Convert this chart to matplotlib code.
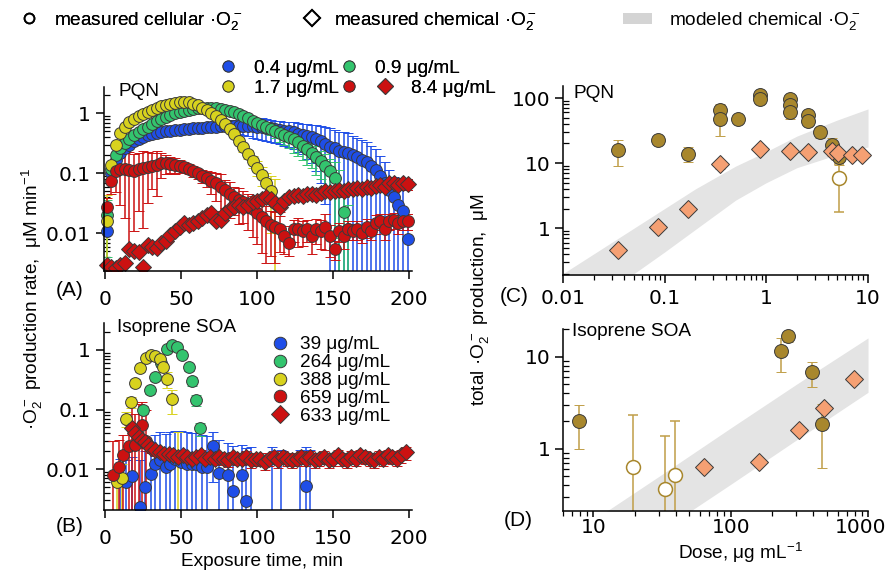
import numpy as np
import matplotlib
matplotlib.use("Agg")
import matplotlib.pyplot as plt
from matplotlib.lines import Line2D
from matplotlib.patches import Patch
from matplotlib.ticker import NullFormatter
from matplotlib.transforms import Bbox, TransformedBbox, ScaledTranslation

plt.rcParams.update({
    "font.family": ["Liberation Sans", "DejaVu Sans"],
    "font.size": 13.7,
    "mathtext.fontset": "custom",
    "mathtext.rm": "Liberation Sans",
    "mathtext.default": "regular",
    "axes.linewidth": 1.1,
})

# ---------------- panel A : PQN, rate vs time ----------------
t_grid = [1, 4, 7, 10, 13, 16, 19, 22, 25, 28, 31, 34, 37, 40, 43, 46, 49, 52, 55, 58,
          61, 64, 67, 70, 73, 76, 79, 82, 85, 88, 91, 94, 97, 100, 103, 106, 109, 112, 115, 118,
          121, 124, 127, 130, 133, 136, 139, 142, 145, 148, 151, 154, 157, 160, 163, 166, 169, 172, 175, 178,
          181, 184, 187, 190, 193, 196, 199]

a_blue = [0.011, 0.1, 0.17, 0.22, 0.26, 0.3, 0.34, 0.37, 0.4, 0.43,
          0.45, 0.47, 0.49, 0.5, 0.51, 0.52, 0.53, 0.54, 0.55, 0.56,
          0.57, 0.58, 0.59, 0.6, 0.6, 0.61, 0.61, 0.62, 0.62, 0.62,
          0.62, 0.62, 0.61, 0.6, 0.59, 0.58, 0.56, 0.54, 0.53, 0.51,
          0.5, 0.48, 0.46, 0.44, 0.42, 0.4, 0.37, 0.34, 0.31, 0.28,
          0.26, 0.24, 0.23, 0.22, 0.2, 0.185, 0.17, 0.155, 0.135, 0.115,
          0.09, 0.07, 0.052, 0.04, 0.03, 0.024, 0.008]
a_blue_rel = [0.7, 0.1, 0.08, 0.06, 0.06, 0.05, 0.05, 0.05, 0.05, 0.05,
              0.05, 0.05, 0.05, 0.05, 0.05, 0.06, 0.06, 0.07, 0.07, 0.08,
              0.09, 0.1, 0.11, 0.12, 0.14, 0.16, 0.18, 0.2, 0.23, 0.26,
              0.3, 0.33, 0.36, 0.38, 0.4, 0.4, 0.4, 0.4, 0.42, 0.43,
              0.45, 0.47, 0.5, 0.53, 0.58, 0.63, 0.7, 0.8, 0.9, 1.0,
              1.05, 1.05, 1.1, 1.1, 1.1, 1.1, 1.15, 1.15, 1.15, 1.2,
              1.2, 1.2, 1.2, 1.2, 1.2, 1.2, 1.2]

a_green = [0.02, 0.12, 0.2, 0.26, 0.32, 0.38, 0.43, 0.48, 0.54, 0.6,
           0.67, 0.74, 0.81, 0.88, 0.95, 1.0, 1.05, 1.1, 1.14, 1.18,
           1.21, 1.23, 1.24, 1.24, 1.22, 1.19, 1.15, 1.1, 1.04, 0.97,
           0.9, 0.83, 0.76, 0.7, 0.64, 0.59, 0.55, 0.51, 0.47, 0.44,
           0.41, 0.37, 0.33, 0.29, 0.25, 0.22, 0.19, 0.16, 0.135, 0.11,
           0.083, 0.05, 0.023, 0.012]
a_green_rel = [0.8, 0.1, 0.08, 0.06, 0.05, 0.05, 0.05, 0.05, 0.05, 0.05,
               0.05, 0.05, 0.05, 0.05, 0.05, 0.05, 0.05, 0.05, 0.05, 0.05,
               0.05, 0.05, 0.05, 0.05, 0.05, 0.05, 0.05, 0.05, 0.05, 0.06,
               0.07, 0.08, 0.1, 0.12, 0.15, 0.18, 0.2, 0.25, 0.3, 0.33,
               0.36, 0.4, 0.4, 0.42, 0.45, 0.45, 0.5, 0.5, 0.55, 0.6,
               0.9, 1.3, 1.4, 1.5]

a_yellow = [0.016, 0.14, 0.3, 0.47, 0.6, 0.72, 0.82, 0.91, 0.99, 1.07,
            1.16, 1.25, 1.33, 1.4, 1.46, 1.51, 1.55, 1.56, 1.52, 1.45,
            1.36, 1.25, 1.13, 1.01, 0.9, 0.78, 0.66, 0.55, 0.45, 0.35,
            0.27, 0.21, 0.16, 0.125, 0.095, 0.07, 0.05, 0.032]
a_yellow_rel = [1.7, 0.1, 0.08, 0.07, 0.06, 0.06, 0.05, 0.05, 0.05, 0.05,
                0.05, 0.05, 0.05, 0.05, 0.05, 0.05, 0.05, 0.05, 0.05, 0.05,
                0.05, 0.05, 0.05, 0.06, 0.06, 0.07, 0.08, 0.09, 0.1, 0.12,
                0.15, 0.18, 0.22, 0.28, 0.35, 0.45, 0.8, 1.5]

a_red = [0.028, 0.075, 0.11, 0.12, 0.12, 0.115, 0.11, 0.12, 0.125, 0.13,
         0.135, 0.14, 0.15, 0.15, 0.145, 0.14, 0.135, 0.13, 0.12, 0.11,
         0.1, 0.092, 0.085, 0.075, 0.068, 0.06, 0.052, 0.045, 0.04, 0.036,
         0.033, 0.028, 0.025, 0.022, 0.019, 0.016, 0.014, 0.013, 0.012, 0.009,
         0.007, 0.012, 0.012, 0.011, 0.012, 0.009, 0.012, 0.011, 0.013, 0.009,
         0.0055, 0.011, 0.009, 0.012, 0.011, 0.012, 0.01, 0.013, 0.011, 0.015,
         0.016, 0.012, 0.016, 0.017, 0.015, 0.016, 0.016]
a_red_rel = [0.4, 0.4, 0.55, 0.75, 0.85, 0.95, 0.9, 0.8, 0.9, 0.75,
             0.6, 0.7, 0.45, 0.35, 0.3, 0.3, 0.25, 0.2, 0.2, 0.2,
             0.2, 0.25, 0.3, 0.4, 0.5, 0.6, 0.5, 0.6, 0.5, 0.6,
             0.55, 0.6, 0.65, 0.7, 0.75, 0.8, 0.7, 0.75, 0.6, 0.5,
             0.4, 0.4, 0.5, 0.45, 0.4, 0.5, 0.45, 0.5, 0.6, 0.55,
             0.35, 0.35, 0.4, 0.35, 0.3, 0.35, 0.3, 0.35, 0.3, 0.35,
             0.3, 0.35, 0.3, 0.3, 0.35, 0.3, 0.3]

a_red_chem = [0.003, 0.0028, 0.0026, 0.003, 0.0032, 0.0055, 0.005, 0.0048, 0.0027, 0.0065,
              0.006, 0.0058, 0.0068, 0.0075, 0.0095, 0.011, 0.013, 0.015, 0.014, 0.015,
              0.016, 0.018, 0.02, 0.022, 0.016, 0.017, 0.022, 0.025, 0.028, 0.03,
              0.027, 0.03, 0.033, 0.035, 0.038, 0.04, 0.038, 0.032, 0.027, 0.035,
              0.04, 0.042, 0.044, 0.042, 0.045, 0.046, 0.044, 0.047, 0.05, 0.048,
              0.05, 0.052, 0.05, 0.055, 0.054, 0.057, 0.055, 0.06, 0.058, 0.062,
              0.065, 0.06, 0.068, 0.07, 0.065, 0.07, 0.066]
a_red_chem_rel = [0.1, 0.1, 0.1, 0.1, 0.1, 0.1, 0.1, 0.1, 0.1, 0.1,
                  0.1, 0.1, 0.1, 0.1, 0.1, 0.1, 0.1, 0.1, 0.1, 0.1,
                  0.12, 0.12, 0.12, 0.12, 0.12, 0.12, 0.12, 0.12, 0.12, 0.12,
                  0.15, 0.15, 0.15, 0.15, 0.15, 0.15, 0.15, 0.15, 0.15, 0.15,
                  0.15, 0.15, 0.15, 0.15, 0.15, 0.15, 0.15, 0.15, 0.15, 0.15,
                  0.18, 0.18, 0.18, 0.18, 0.18, 0.18, 0.18, 0.18, 0.18, 0.18,
                  0.2, 0.2, 0.2, 0.2, 0.2, 0.2, 0.2]

# ---------------- panel B : isoprene SOA, rate vs time ----------------
b_blue_t = [10, 14, 18, 23, 26, 30, 33, 36, 40, 43, 46, 50, 54, 57, 60, 64, 67, 71, 75, 81,
            84, 90, 93, 96, 110, 116, 128, 132, 135]
b_blue = [0.0065, 0.006, 0.0077, 0.0023, 0.0049, 0.0083, 0.012, 0.014, 0.011, 0.012,
          0.015, 0.013, 0.012, 0.012, 0.012, 0.011, 0.011, 0.024, 0.0087, 0.0078,
          0.0043, 0.0078, 0.0029, 0.0012, 0.0012, 0.0012, 0.0012, 0.0052, 0.0012]
b_blue_err = [0.008, 0.008, 0.008, 0.012, 0.015, 0.02, 0.025, 0.028, 0.028, 0.03,
              0.028, 0.03, 0.03, 0.028, 0.028, 0.027, 0.025, 0.018, 0.022, 0.02,
              0.02, 0.018, 0.02, 0.022, 0.022, 0.02, 0.02, 0.018, 0.02]

b_green_t = [25, 29.5, 33, 37, 40.5, 44, 47, 50.5, 55, 57, 60, 62.5]
b_green = [0.1, 0.21, 0.35, 0.6, 1.03, 1.19, 1.12, 0.82, 0.52, 0.3, 0.145, 0.048]
b_green_err = [0.015, 0.03, 0.05, 0.08, 0.12, 0.15, 0.13, 0.1, 0.07, 0.05, 0.03, 0.012]

b_yellow_t = [8, 11, 14, 17, 20, 23, 27, 30, 33, 36, 38, 41, 44, 48]
b_yellow = [0.006, 0.007, 0.07, 0.135, 0.28, 0.49, 0.73, 0.82, 0.8, 0.7, 0.51, 0.33, 0.15, 0.0012]
b_yellow_err = [0.005, 0.005, 0.02, 0.03, 0.04, 0.06, 0.08, 0.08, 0.08, 0.08, 0.08, 0.1, 0.065, 0.04]

b_red_t = [5.5, 9, 12, 15.5, 17.5, 20, 22, 24, 27]
b_red = [0.008, 0.011, 0.017, 0.024, 0.048, 0.025, 0.035, 0.055, 0.03]
b_red_err = [0.022, 0.02, 0.02, 0.03, 0.08, 0.06, 0.09, 0.08, 0.07]

b_chem_t = [18, 20, 22, 24, 26, 28, 30, 33, 36, 39, 42, 45, 48, 51, 54, 57, 60, 63, 66, 69,
            72, 75, 78, 81, 84, 87, 90, 93, 96, 99, 102, 105, 108, 111, 114, 117, 120, 123, 126, 129,
            132, 135, 138, 141, 144, 147, 150, 153, 156, 159, 162, 165, 168, 171, 174, 177, 180, 183, 186, 189,
            192, 195, 198]
b_chem = [0.048, 0.04, 0.035, 0.031, 0.028, 0.025, 0.023,
          0.021, 0.019, 0.018, 0.018, 0.017, 0.016, 0.017, 0.016, 0.015, 0.016,
          0.017, 0.015, 0.016, 0.015, 0.016, 0.015, 0.014, 0.016, 0.015, 0.015,
          0.016, 0.014, 0.015, 0.015, 0.013, 0.015, 0.016, 0.014, 0.016, 0.015,
          0.014, 0.015, 0.016, 0.015, 0.016, 0.014, 0.015, 0.016, 0.014, 0.015,
          0.017, 0.015, 0.014, 0.016, 0.015, 0.017, 0.016, 0.015, 0.014, 0.016,
          0.015, 0.017, 0.016, 0.015, 0.017, 0.019]
b_chem_rel = [0.2, 0.2, 0.2, 0.2, 0.2, 0.2, 0.2,
              0.2, 0.2, 0.2, 0.2, 0.2, 0.2, 0.2, 0.2, 0.2, 0.2,
              0.22, 0.22, 0.22, 0.22, 0.22, 0.22, 0.22, 0.22, 0.22, 0.22,
              0.25, 0.25, 0.25, 0.25, 0.25, 0.25, 0.25, 0.25, 0.25, 0.25,
              0.25, 0.25, 0.25, 0.25, 0.25, 0.25, 0.25, 0.25, 0.25, 0.25,
              0.25, 0.25, 0.25, 0.25, 0.25, 0.25, 0.25, 0.25, 0.25, 0.25,
              0.25, 0.25, 0.25, 0.25, 0.25, 0.25]

# ---------------- panel C : PQN totals vs dose ----------------
c_cell_dose = [0.035, 0.0865, 0.17, 0.35, 0.35, 0.53, 0.865, 0.865, 1.7, 1.7, 1.7, 2.58, 2.58, 3.37, 4.38, 5.2]
c_cell = [16, 22.5, 14, 66, 48, 48, 110, 98, 98, 78, 62, 55, 44, 30, 19, 12.5]
c_cell_err = [7, 0, 3.7, 14, 22, 0, 10, 18, 10, 0, 14, 8, 0, 6, 5, 3]
c_open_dose = [5.2]
c_open = [5.8]
c_open_err = [4]
c_chem_dose = [0.035, 0.0865, 0.17, 0.35, 0.865, 1.7, 2.58, 4.38, 5.1, 6.9, 8.8]
c_chem = [0.46, 1.03, 2.0, 9.7, 16.3, 15.5, 14.9, 15.5, 14.5, 13.4, 13.2]
c_chem_err = [0.06, 0.12, 0.25, 1.5, 2.0, 1.8, 1.5, 2.5, 2.0, 1.8, 1.8]
c_model_dose = [0.01, 0.02, 0.05, 0.1, 0.2, 0.5, 1, 2, 5, 10]
c_model_hi = [0.2, 0.4, 1.0, 2.0, 4.0, 9.0, 15, 26, 46, 68]
c_model_lo = [0.035, 0.075, 0.2, 0.43, 0.95, 2.7, 5.0, 8.5, 13.5, 17.7]

# ---------------- panel D : isoprene SOA totals vs dose ----------------
d_cell_dose = [7.8, 232, 263, 394, 465]
d_cell = [2.0, 11.4, 16.6, 6.75, 1.85]
d_cell_err = [1.0, 4.5, 2.0, 2.1, 1.23]
d_open_dose = [19.4, 33.4, 39.5]
d_open = [0.64, 0.36, 0.52]
d_open_err = [1.71, 1.02, 1.48]
d_chem_dose = [63.4, 162, 316, 479, 791]
d_chem = [0.63, 0.71, 1.58, 2.8, 5.7]
d_chem_err = [0.05, 0.06, 0.12, 0.2, 0.4]
d_model_dose = [10, 30, 100, 300, 1000]
d_model_hi = [0.168, 0.5, 1.68, 5.0, 16]
d_model_lo = [0.041, 0.124, 0.41, 1.24, 4.1]

BLUE = "#1f4ee8"
GREEN = "#33c46e"
YELLOW = "#d8d21e"
RED = "#cc1111"
GOLD = "#a8872d"
GOLD_ERR = "#c09e48"
SALMON = "#f5a073"
EDGE = "#3a3a3a"
BAND = "#e4e4e4"
TICK_FS = 14.5
TICK_FONT = "DejaVu Sans"

fig = plt.figure(figsize=(8.88, 5.72), dpi=100)
axA = fig.add_axes([0.1166, 0.527, 0.3475, 0.3217])
axB = fig.add_axes([0.1166, 0.1084, 0.3475, 0.3269])
axC = fig.add_axes([0.634, 0.5192, 0.3435, 0.3304])
axD = fig.add_axes([0.634, 0.1066, 0.3435, 0.3182])


def draw(ax, x, y, err, color, marker="o", ms=8.5, ecolor=None, mfc=None, mec=EDGE, mew=0.7):
    res = ax.errorbar(x, y, yerr=err, fmt=marker, ms=ms, mfc=mfc or color, mec=mec, mew=mew,
                      ecolor=ecolor or color, elinewidth=1.1, capsize=3.5, capthick=1.1)
    # let markers spill a little past the left/right spines, like the original
    res[0].set_clip_box(TransformedBbox(Bbox([[-0.06, 0.0], [1.06, 1.0]]), ax.transAxes))
    return res


def rel(v, r):
    return np.array(v) * np.array(r)


for ax in (axA, axB, axC, axD):
    ax.spines["top"].set_visible(False)
    ax.spines["right"].set_visible(False)
    ax.set_yscale("log")
    ax.tick_params(which="major", direction="out", length=6, width=1.1,
                   labelsize=TICK_FS, labelfontfamily=TICK_FONT)
    ax.tick_params(which="minor", axis="y", direction="in", length=4, width=0.9)
    ax.yaxis.set_minor_formatter(NullFormatter())

# panel A
draw(axA, t_grid, a_blue, rel(a_blue, a_blue_rel), BLUE)
draw(axA, t_grid[:54], a_green, rel(a_green, a_green_rel), GREEN)
draw(axA, t_grid[:38], a_yellow, rel(a_yellow, a_yellow_rel), YELLOW)
draw(axA, t_grid, a_red, rel(a_red, a_red_rel), RED)
draw(axA, t_grid, a_red_chem, rel(a_red_chem, a_red_chem_rel), RED, marker="D", ms=8.5)
axA.set_xlim(-1, 202)
axA.set_ylim(0.0024, 2.8)

# panel B
draw(axB, b_blue_t, b_blue, b_blue_err, BLUE)
draw(axB, b_green_t, b_green, b_green_err, GREEN)
draw(axB, b_yellow_t, b_yellow, b_yellow_err, YELLOW)
draw(axB, b_red_t, b_red, b_red_err, RED)
draw(axB, b_chem_t, b_chem, rel(b_chem, b_chem_rel), RED, marker="D", ms=8.5)
axB.set_xlim(-1, 202)
axB.set_ylim(0.00205, 2.84)

for ax in (axA, axB):
    ax.set_xticks([0, 50, 100, 150, 200])
    ax.set_yticks([0.01, 0.1, 1], ["0.01", "0.1", "1"])
    ax.tick_params(axis="x", which="major", length=6, pad=8)
    ax.tick_params(axis="y", which="major", pad=3)

# panel C
axC.set_xscale("log")
axC.fill_between(c_model_dose, c_model_lo, c_model_hi, color=BAND, lw=0, zorder=0)
draw(axC, c_cell_dose, c_cell, c_cell_err, GOLD, ms=10, ecolor=GOLD_ERR)
draw(axC, c_open_dose, c_open, c_open_err, GOLD, ms=10, ecolor=GOLD_ERR, mfc="white", mec=GOLD, mew=1.1)
draw(axC, c_chem_dose, c_chem, c_chem_err, SALMON, marker="D", ms=9)
axC.set_xlim(0.01, 10)
axC.set_ylim(0.19, 153)
axC.set_xticks([0.01, 0.1, 1, 10], ["0.01", "0.1", "1", "10"])
axC.set_yticks([1, 10, 100], ["1", "10", "100"])
axC.tick_params(axis="x", which="major", pad=4)

# panel D
axD.set_xscale("log")
axD.fill_between(d_model_dose, d_model_lo, d_model_hi, color=BAND, lw=0, zorder=0)
draw(axD, d_cell_dose, d_cell, d_cell_err, GOLD, ms=10, ecolor=GOLD_ERR)
draw(axD, d_open_dose, d_open, d_open_err, GOLD, ms=10, ecolor=GOLD_ERR, mfc="white", mec=GOLD, mew=1.1)
draw(axD, d_chem_dose, d_chem, d_chem_err, SALMON, marker="D", ms=9)
axD.set_xlim(6, 1000)
axD.set_ylim(0.21, 20)
axD.set_xticks([10, 100, 1000], ["10", "100", "1000"])
axD.set_yticks([1, 10], ["1", "10"])
axD.tick_params(axis="x", which="major", length=4, pad=1)
# the last label sits against the right edge of the figure
last = axD.get_xticklabels()[-1]
last.set_transform(last.get_transform() + ScaledTranslation(-7 / 100, 0, fig.dpi_scale_trans))

for ax in (axC, axD):
    ax.xaxis.set_minor_formatter(NullFormatter())
    ax.tick_params(axis="x", which="minor", direction="out", length=3.5, width=0.9)
    ax.tick_params(axis="y", which="major", pad=3)

# panel texts
W, H = 888, 572
def ftext(x, y, s, **kw):
    fig.text(x / W, 1 - y / H, s, **kw)

ftext(118, 92, "PQN", va="center")
ftext(117, 328, "Isoprene SOA", va="center")
ftext(573, 93, "PQN", va="center")
ftext(572, 332, "Isoprene SOA", va="center")
ftext(70, 290, "(A)", ha="center", va="center", fontsize=15)
ftext(70, 527, "(B)", ha="center", va="center", fontsize=15)
ftext(514, 297, "(C)", ha="center", va="center", fontsize=15)
ftext(518, 521, "(D)", ha="center", va="center", fontsize=15)
ftext(262, 562, "Exposure time, min", ha="center", va="center")
ftext(740, 553, "Dose, μg mL$^{-1}$", ha="center", va="center")
ftext(32, 299, "·O$_2^-$ production rate,  μM min$^{-1}$", rotation=90, ha="center", va="center")
ftext(480, 300, "total ·O$_2^-$ production,  μM", rotation=90, ha="center", va="center")

# legends in panel A (two rows, three blocks)
def mk(color, marker="o", ms=8):
    return Line2D([], [], ls="none", marker=marker, ms=ms, mfc=color, mec=EDGE, mew=0.7)

leg_kw = dict(frameon=False, borderpad=0, borderaxespad=0, fontsize=13.7, loc="center left",
              handlelength=0.8, handletextpad=0.95, columnspacing=0.15)
l1 = fig.legend([mk(BLUE), mk(GREEN)], ["0.4 μg/mL", "0.9 μg/mL"], ncol=2,
                bbox_to_anchor=(220.8 / W, 1 - 68 / H), **leg_kw)
l2 = fig.legend([mk(YELLOW), mk(RED)], ["1.7 μg/mL", ""], ncol=2,
                bbox_to_anchor=(220.8 / W, 1 - 88 / H), **leg_kw)
l3 = fig.legend([mk(RED, "D", 8.5)], ["8.4 μg/mL"],
                bbox_to_anchor=(377.5 / W, 1 - 88 / H), **leg_kw)
fig.add_artist(l1)
fig.add_artist(l2)

# legend in panel B
axB.legend([mk(BLUE, ms=9), mk(GREEN, ms=9), mk(YELLOW, ms=9), mk(RED, ms=9), mk(RED, "D", 9)],
           ["39 μg/mL", "264 μg/mL", "388 μg/mL", "659 μg/mL", "633 μg/mL"],
           loc="center left", bbox_to_anchor=(274.6 / W, 1 - 380.5 / H), bbox_transform=fig.transFigure,
           frameon=False, borderpad=0, borderaxespad=0, fontsize=13.7,
           handlelength=0.6, handletextpad=0.75, labelspacing=0.03)

# top legend
top_kw = dict(frameon=False, borderpad=0, borderaxespad=0, fontsize=13.7, loc="center left")
h_circ = Line2D([], [], ls="none", marker="o", ms=7, mfc="white", mec="black", mew=1.4)
h_diam = Line2D([], [], ls="none", marker="D", ms=8.5, mfc="white", mec="black", mew=1.4)
h_band = Patch(facecolor="#d4d4d4", edgecolor="none")
t1 = fig.legend([h_circ], ["measured cellular ·O$_2^-$"], bbox_to_anchor=(21.8 / W, 1 - 21 / H),
                handlelength=0.8, handletextpad=0.9, **top_kw)
t2 = fig.legend([h_diam], ["measured chemical ·O$_2^-$"], bbox_to_anchor=(304.8 / W, 1 - 21 / H),
                handlelength=0.8, handletextpad=0.75, **top_kw)
t3 = fig.legend([h_band], ["modeled chemical ·O$_2^-$"], bbox_to_anchor=(623 / W, 1 - 21 / H),
                handlelength=1.5, handleheight=0.55, handletextpad=0.9, **top_kw)
fig.add_artist(t1)
fig.add_artist(t2)
fig.add_artist(l3)

fig.savefig("out.png", dpi=100)
